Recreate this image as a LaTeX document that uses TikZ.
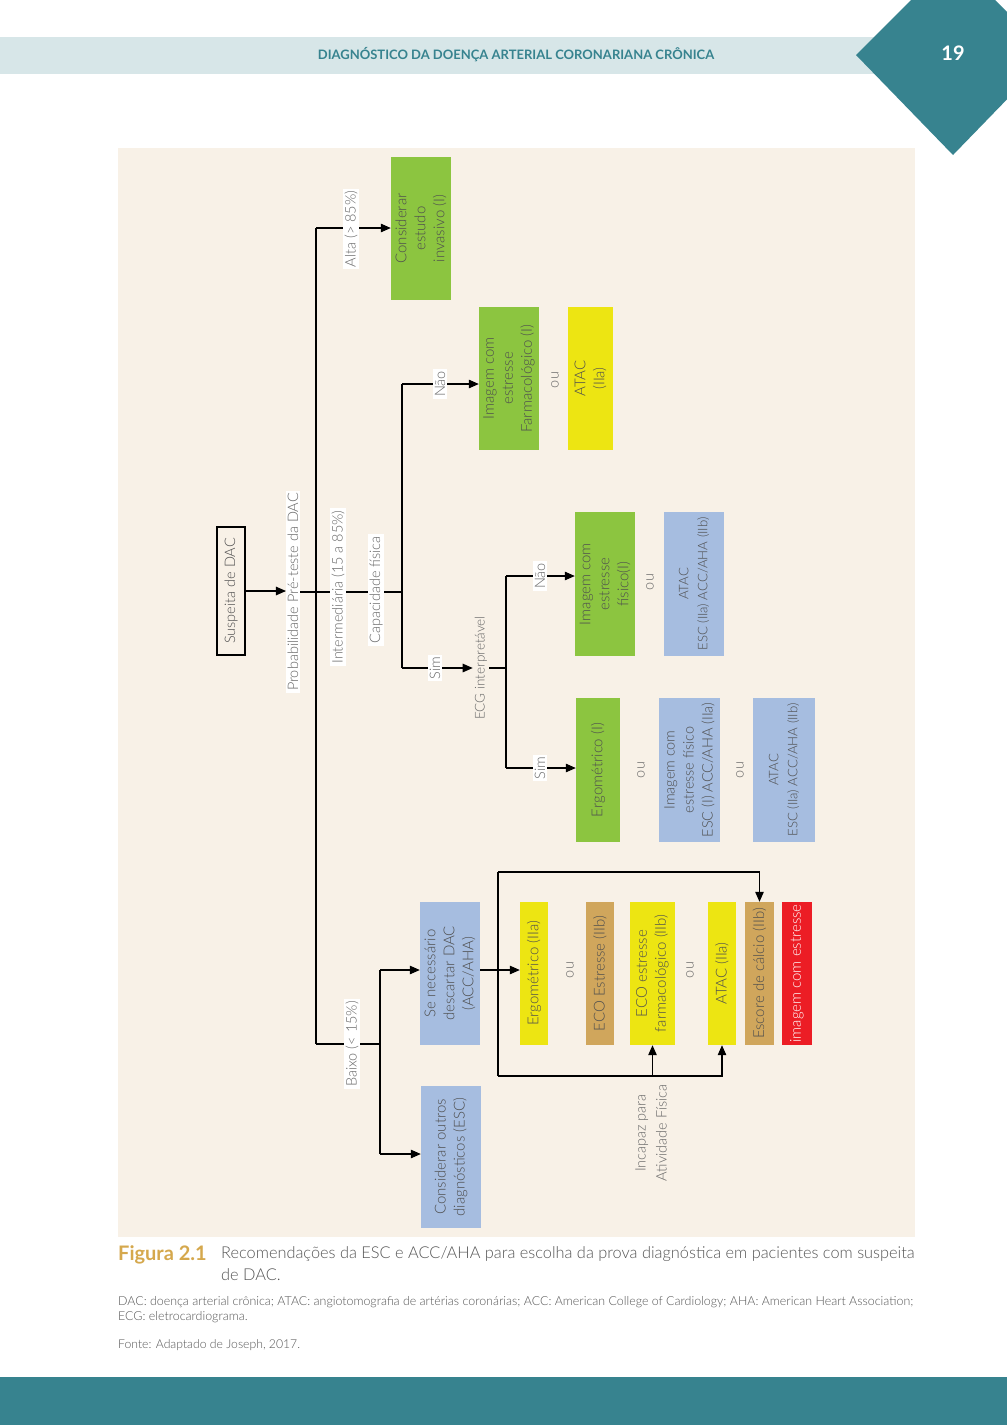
\documentclass[tikz,border=0pt]{standalone}
\usepackage{fontspec}
\setmainfont{Lato}
\newfontfamily\lightfont{Lato Light}
\usetikzlibrary{arrows.meta}
\definecolor{cgreen}{HTML}{8CC540}
\definecolor{cyellow}{HTML}{EDE512}
\definecolor{cblue}{HTML}{A6BDE0}
\definecolor{ctan}{HTML}{D0A65C}
\definecolor{cred}{HTML}{EC1D25}
\definecolor{cream}{HTML}{F8F1E7}
\definecolor{hdr}{HTML}{D7E6E8}
\definecolor{cteal}{HTML}{37838F}
\definecolor{gold}{HTML}{D5A84D}
\definecolor{boxtxt}{HTML}{4E4E4E}
\definecolor{lbltxt}{HTML}{666666}
\definecolor{captxt}{HTML}{555555}
\tikzset{
  base/.style={rotate=90, align=center, inner sep=2pt, font=\lightfont\fontsize{15}{19}\selectfont, text=boxtxt},
  gbox/.style={base, fill=cgreen},
  ybox/.style={base, fill=cyellow},
  blbox/.style={base, fill=cblue},
  tnbox/.style={base, fill=ctan},
  rdbox/.style={base, fill=cred, text=white},
  outl/.style={base, draw=black, line width=1.2pt, font=\lightfont\fontsize{14.5}{17}\selectfont},
  lbl/.style={rotate=90, fill=white, inner xsep=2pt, inner ysep=1.5pt, text=lbltxt, font=\lightfont\fontsize{14.5}{17}\selectfont},
  plain/.style={rotate=90, align=center, inner sep=2pt, text=lbltxt, font=\lightfont\fontsize{14.5}{17}\selectfont},
  ln/.style={line width=1.1pt, black},
  arr/.style={ln, -{Triangle[length=10pt,width=8.5pt]}}
}
\begin{document}
\begin{tikzpicture}[x=1pt,y=-1pt]
\useasboundingbox (0,0) rectangle (1007,1425);
\fill[white] (0,0) rectangle (1007,1425);
\fill[hdr] (0,37) rectangle (880,74);
\begin{scope}
\clip (0,0) rectangle (1007,1425);
\fill[cteal] (856,55) -- (953,-42) -- (1050,55) -- (953,155) -- cycle;
\end{scope}
\node[font=\fontsize{13}{13}\selectfont\bfseries, text=cteal] (hdrtxt) at (516,55) {DIAGNÓSTICO DA DOENÇA ARTERIAL CORONARIANA CRÔNICA};
\node[font=\fontsize{20}{20}\selectfont\bfseries, text=white] (pgnum) at (953,53) {19};
\fill[cream] (118,148) rectangle (915,1237);
\fill[cteal] (0,1377) rectangle (1007,1425);

% caption
\node[anchor=north west, inner sep=0pt, font=\fontsize{20}{20}\selectfont\bfseries, text=gold] (figlbl) at (118,1245) {Figura 2.1};
\node[anchor=north west, inner sep=0pt, align=left, font=\lightfont\fontsize{16.35}{22}\selectfont, text=captxt] (captext) at (221,1246) {Recomendações da ESC e ACC/AHA para escolha da prova diagnóstica em pacientes com suspeita\\de DAC.};
\node[anchor=north west, inner sep=0pt, align=left, font=\lightfont\fontsize{12.4}{15.5}\selectfont, text=captxt] (foot) at (118,1296) {DAC: doença arterial crônica; ATAC: angiotomografia de artérias coronárias; ACC: American College of Cardiology; AHA: American Heart Association;\\ECG: eletrocardiograma.};
\node[anchor=north west, inner sep=0pt, font=\lightfont\fontsize{12.2}{15}\selectfont, text=captxt] (fonte) at (118,1339) {Fonte: Adaptado de Joseph, 2017.};

% boxes
\node[outl, minimum width=128pt, minimum height=28pt] (susp) at (231,591) {Suspeita de DAC};
\node[lbl] (prob) at (293,592) {Probabilidade Pré-teste da DAC};
\node[gbox, minimum width=143pt, minimum height=60pt] (invas) at (421,228.5) {Considerar\\estudo\\invasivo (I)};
\node[gbox, minimum width=143pt, minimum height=60pt] (farm) at (509,378.5) {Imagem com\\estresse\\Farmacológico (I)};
\node[ybox, minimum width=143pt, minimum height=45pt] (atac1) at (590.5,378.5) {ATAC\\(IIa)};
\node[gbox, minimum width=144pt, minimum height=60pt] (fisico) at (605,584) {Imagem com\\estresse\\físico(I)};
\node[blbox, minimum width=144pt, minimum height=60pt, font=\lightfont\fontsize{13.2}{19}\selectfont] (atac2) at (694,584) {ATAC\\ESC (IIa) ACC/AHA (IIb)};
\node[gbox, minimum width=144pt, minimum height=44pt] (ergo) at (598,770) {Ergométrico (I)};
\node[blbox, minimum width=144pt, minimum height=61pt, font=\lightfont\fontsize{14.5}{19}\selectfont] (imgfis) at (689.5,770) {Imagem com\\estresse físico\\ESC (I) ACC/AHA (IIa)};
\node[blbox, minimum width=144pt, minimum height=62pt, font=\lightfont\fontsize{13.2}{19}\selectfont] (atac3) at (784,770) {ATAC\\ESC (IIa) ACC/AHA (IIb)};
\node[blbox, minimum width=143pt, minimum height=60pt] (senec) at (450,973.5) {Se necessário\\descartar DAC\\(ACC/AHA)};
\node[blbox, minimum width=142pt, minimum height=60pt] (outros) at (451,1157) {Considerar outros\\diagnósticos (ESC)};
\node[ybox, minimum width=143pt, minimum height=28pt] (ergo2) at (534,973.5) {Ergométrico (IIa)};
\node[tnbox, minimum width=143pt, minimum height=28pt] (ecoest) at (600,973.5) {ECO Estresse (IIb)};
\node[ybox, minimum width=143pt, minimum height=45pt] (ecofarm) at (652.5,973.5) {ECO estresse\\farmacológico (IIb)};
\node[ybox, minimum width=143pt, minimum height=28pt] (atac4) at (722,973.5) {ATAC (IIa)};
\node[tnbox, minimum width=143pt, minimum height=29pt] (escore) at (759.5,973.5) {Escore de cálcio (IIb)};
\node[rdbox, minimum width=143pt, minimum height=30pt] (imgest) at (797,973.5) {imagem com estresse};
\node[plain, font=\lightfont\fontsize{13.5}{16}\selectfont] (ecg) at (481,668) {ECG interpretável};

% junctions
\coordinate (mtop) at (316,228);
\coordinate (mbot) at (316,1044);
\coordinate (ctop) at (402,384);
\coordinate (cmid) at (402,592);
\coordinate (cbot) at (402,668);
\coordinate (etop) at (506,576);
\coordinate (emid) at (506,668);
\coordinate (ebot) at (506,768);
\coordinate (bmid) at (380,1044);
\coordinate (btop) at (380,970);
\coordinate (bbot) at (380,1154);
\coordinate (lt) at (498,872);
\coordinate (lb) at (498,1076);

% connectors
\draw[arr] (susp.south) -- (susp.south -| prob.north);
\draw[ln] (prob) -- (cmid);
\draw[ln] (mtop) -- (mbot);
\draw[arr] (mtop) -- (mtop -| invas.north);
\draw[ln] (mbot) -- (bmid);
\draw[ln] (btop) -- (bbot);
\draw[arr] (btop) -- (btop -| senec.north);
\draw[arr] (bbot) -- (bbot -| outros.north);
\draw[ln] (ctop) -- (cbot);
\draw[arr] (ctop) -- (ctop -| farm.north);
\draw[arr] (cbot) -- (ecg);
\draw[ln] (ecg) -- (emid);
\draw[ln] (etop) -- (ebot);
\draw[arr] (etop) -- (etop -| fisico.north);
\draw[arr] (ebot) -- (ebot -| ergo.north);
\draw[arr] (btop -| senec.south) -- (btop -| ergo2.north);
\draw[ln] (lt) -- (lb);
\draw[arr] (lt) -| (escore.east);
\draw[arr] (lb) -| (atac4.west);
\draw[arr] (lb -| ecofarm.west) -- (ecofarm.west);

% labels on lines
\node[lbl] (inter) at (338,587) {Intermediária (15 a 85\%)};
\node[lbl] (capfis) at (376,590) {Capacidade física};
\node[lbl] (alta) at (351,229) {Alta (> 85\%)};
\node[lbl] (baixo) at (352,1044) {Baixo (< 15\%)};
\node[lbl] (nao1) at (440,384) {Não};
\node[lbl] (sim1) at (435,668) {Sim};
\node[lbl] (nao2) at (540,576) {Não};
\node[lbl] (sim2) at (540,768) {Sim};

% "ou" texts
\node[plain] (ou1) at (555,380) {ou};
\node[plain] (ou2) at (650,582) {ou};
\node[plain] (ou3) at (641,770) {ou};
\node[plain] (ou4) at (740,770) {ou};
\node[plain] (ou5) at (570,970) {ou};
\node[plain] (ou6) at (690,970) {ou};
\node[plain, font=\lightfont\fontsize{14.5}{21}\selectfont] (incapaz) at (651,1133) {Incapaz para\\Atividade Física};
\end{tikzpicture}
\end{document}
